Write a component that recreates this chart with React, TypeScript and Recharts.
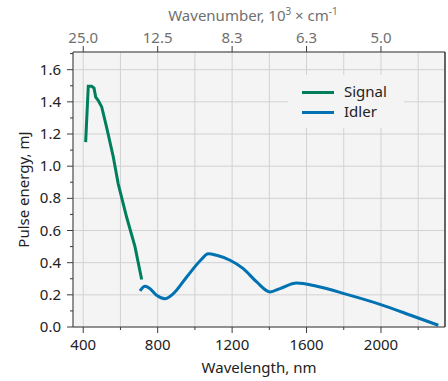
import React from 'react';
import { LineChart, Line, XAxis, YAxis, CartesianGrid, Legend, ReferenceLine } from 'recharts';

const signalWavelength = [413, 427, 445, 458, 467, 480, 499, 526, 561, 588, 633, 678, 714];
const signalEnergy = [1.15, 1.497, 1.497, 1.485, 1.43, 1.41, 1.37, 1.24, 1.06, 0.89, 0.684, 0.5, 0.295];

const idlerWavelength = [705, 732, 758, 794, 839, 884, 956, 1027, 1072, 1117, 1189, 1260, 1332, 1404, 1457, 1547, 1655, 1816, 1995, 2174, 2308];
const idlerEnergy = [0.224, 0.253, 0.239, 0.197, 0.176, 0.207, 0.311, 0.41, 0.456, 0.446, 0.415, 0.363, 0.28, 0.218, 0.239, 0.274, 0.253, 0.203, 0.141, 0.067, 0.011];

const xTicks = [400, 600, 800, 1000, 1200, 1400, 1600, 1800, 2000, 2200];
const xLabelTicks = [400, 800, 1200, 1600, 2000];
const topTicks = [400, 800, 1200, 1600, 2000];
const topTickLabels = ['25.0', '12.5', '8.3', '6.3', '5.0'];
const yTicks = [0, 0.1, 0.2, 0.3, 0.4, 0.5, 0.6, 0.7, 0.8, 0.9, 1.0, 1.1, 1.2, 1.3, 1.4, 1.5, 1.6, 1.7];
const yGridTicks = [0, 0.2, 0.4, 0.6, 0.8, 1.0, 1.2, 1.4, 1.6];

const X_DOMAIN = [345, 2344];
const Y_DOMAIN = [0, 1.71];

const SIGNAL_COLOR = '#007f5c';
const IDLER_COLOR = '#0072b2';
const AXIS_COLOR = '#3a3a3a';
const FONT = '"Noto Sans", "Open Sans", sans-serif';

const signalData = signalWavelength.map((w, i) => ({ w, v: signalEnergy[i] }));
const idlerData = idlerWavelength.map((w, i) => ({ w, v: idlerEnergy[i] }));

const BottomTick = (props: any) => {
  const { x, y, payload } = props;
  const major = xLabelTicks.includes(payload.value);
  return (
    <g>
      <line x1={x} x2={x} y1={y} y2={y + (major ? 6 : 3)} stroke={AXIS_COLOR} strokeWidth={1} />
      {major && (
        <text x={x} y={y + 23} textAnchor="middle" fontSize={15} fontFamily={FONT} fill="#222">
          {payload.value}
        </text>
      )}
    </g>
  );
};

const TopTick = (props: any) => {
  const { x, y, payload } = props;
  const idx = topTicks.indexOf(payload.value);
  return (
    <g>
      <line x1={x} x2={x} y1={y} y2={y - 6} stroke={AXIS_COLOR} strokeWidth={1} />
      <text x={x} y={y - 9} textAnchor="middle" fontSize={15} fontFamily={FONT} fill="#707070">
        {idx >= 0 ? topTickLabels[idx] : ''}
      </text>
    </g>
  );
};

const LeftTick = (props: any) => {
  const { x, y, payload } = props;
  const major = Math.round(payload.value * 10) % 2 === 0;
  return (
    <g>
      <line x1={x} x2={x - (major ? 6 : 3)} y1={y} y2={y} stroke={AXIS_COLOR} strokeWidth={1} />
      {major && (
        <text x={x - 12} y={y + 5} textAnchor="end" fontSize={15} fontFamily={FONT} fill="#222">
          {payload.value.toFixed(1)}
        </text>
      )}
    </g>
  );
};

const LegendContent = () => (
  <div style={{ width: 116, height: 53, background: '#f4f4f4', position: 'relative', fontFamily: FONT, fontSize: 15, color: '#222' }}>
    {[
      { name: 'Signal', color: SIGNAL_COLOR, top: 17 },
      { name: 'Idler', color: IDLER_COLOR, top: 37 },
    ].map((it) => (
      <div key={it.name}>
        <div style={{ position: 'absolute', left: 14, top: it.top - 1.5, width: 32, height: 3, background: it.color }} />
        <div style={{ position: 'absolute', left: 56, top: it.top - 11, lineHeight: '20px' }}>{it.name}</div>
      </div>
    ))}
  </div>
);

export default function App() {
  return (
    <div style={{ position: 'absolute', left: 0, top: 0 }}>
      <LineChart width={448} height={381} margin={{ top: 0, right: 3, bottom: 0, left: 0 }}>
        <CartesianGrid
          xAxisId="bottom"
          yAxisId="grid"
          fill="#f4f4f4"
          stroke="#d2d2d2"
          strokeWidth={1}
        />
        <XAxis
          xAxisId="bottom"
          dataKey="w"
          type="number"
          domain={X_DOMAIN}
          allowDataOverflow
          ticks={xTicks}
          interval={0}
          height={54}
          tickSize={0}
          tickMargin={0}
          tickLine={false}
          tick={<BottomTick />}
          axisLine={{ stroke: AXIS_COLOR, strokeWidth: 1 }}
          label={{
            content: (p: any) => {
              const vb = p.viewBox;
              return (
                <text x={vb.x + vb.width / 2} y={vb.y + 46} textAnchor="middle" fontSize={15} fontFamily={FONT} fill="#222">
                  Wavelength, nm
                </text>
              );
            },
          }}
        />
        <XAxis
          xAxisId="top"
          orientation="top"
          dataKey="w"
          type="number"
          domain={X_DOMAIN}
          allowDataOverflow
          ticks={topTicks}
          interval={0}
          height={52}
          tickSize={0}
          tickMargin={0}
          tickLine={false}
          tick={<TopTick />}
          axisLine={{ stroke: AXIS_COLOR, strokeWidth: 1 }}
          label={{
            content: (p: any) => {
              const vb = p.viewBox;
              return (
                <text x={vb.x + vb.width / 2 - 6} y={21} textAnchor="middle" fontSize={15} fontFamily={FONT} fill="#707070">
                  Wavenumber, 10
                  <tspan dy={-6} fontSize={10}>3</tspan>
                  <tspan dy={6}> × cm</tspan>
                  <tspan dy={-6} fontSize={10}>-1</tspan>
                </text>
              );
            },
          }}
        />
        <YAxis
          yAxisId="left"
          type="number"
          domain={Y_DOMAIN}
          allowDataOverflow
          ticks={yTicks}
          interval={0}
          width={73}
          tickSize={0}
          tickMargin={0}
          tickLine={false}
          tick={<LeftTick />}
          axisLine={{ stroke: AXIS_COLOR, strokeWidth: 1 }}
          label={{
            content: (p: any) => {
              const vb = p.viewBox;
              const cx = 23;
              const cy = vb.y + vb.height / 2;
              return (
                <text x={cx} y={cy} transform={`rotate(-90 ${cx} ${cy})`} textAnchor="middle" dominantBaseline="central" fontSize={15} fontFamily={FONT} fill="#222">
                  Pulse energy, mJ
                </text>
              );
            },
          }}
        />
        <YAxis yAxisId="grid" orientation="right" width={0} type="number" domain={Y_DOMAIN} allowDataOverflow ticks={yGridTicks} interval={0} hide />
        <ReferenceLine xAxisId="bottom" yAxisId="left" x={X_DOMAIN[1]} stroke={AXIS_COLOR} strokeWidth={1.5} ifOverflow="visible" />
        <Legend
          layout="horizontal"
          verticalAlign="middle"
          align="center"
          content={<LegendContent />}
          wrapperStyle={{ position: 'absolute', left: 288, top: 75, width: 116, height: 53 }}
        />
        <Line
          xAxisId="bottom"
          yAxisId="left"
          data={signalData}
          dataKey="v"
          name="Signal"
          type="linear"
          stroke={SIGNAL_COLOR}
          strokeWidth={3}
          dot={false}
          isAnimationActive={false}
        />
        <Line
          xAxisId="bottom"
          yAxisId="left"
          data={idlerData}
          dataKey="v"
          name="Idler"
          type="monotone"
          stroke={IDLER_COLOR}
          strokeWidth={3}
          dot={false}
          isAnimationActive={false}
        />
      </LineChart>
    </div>
  );
}
